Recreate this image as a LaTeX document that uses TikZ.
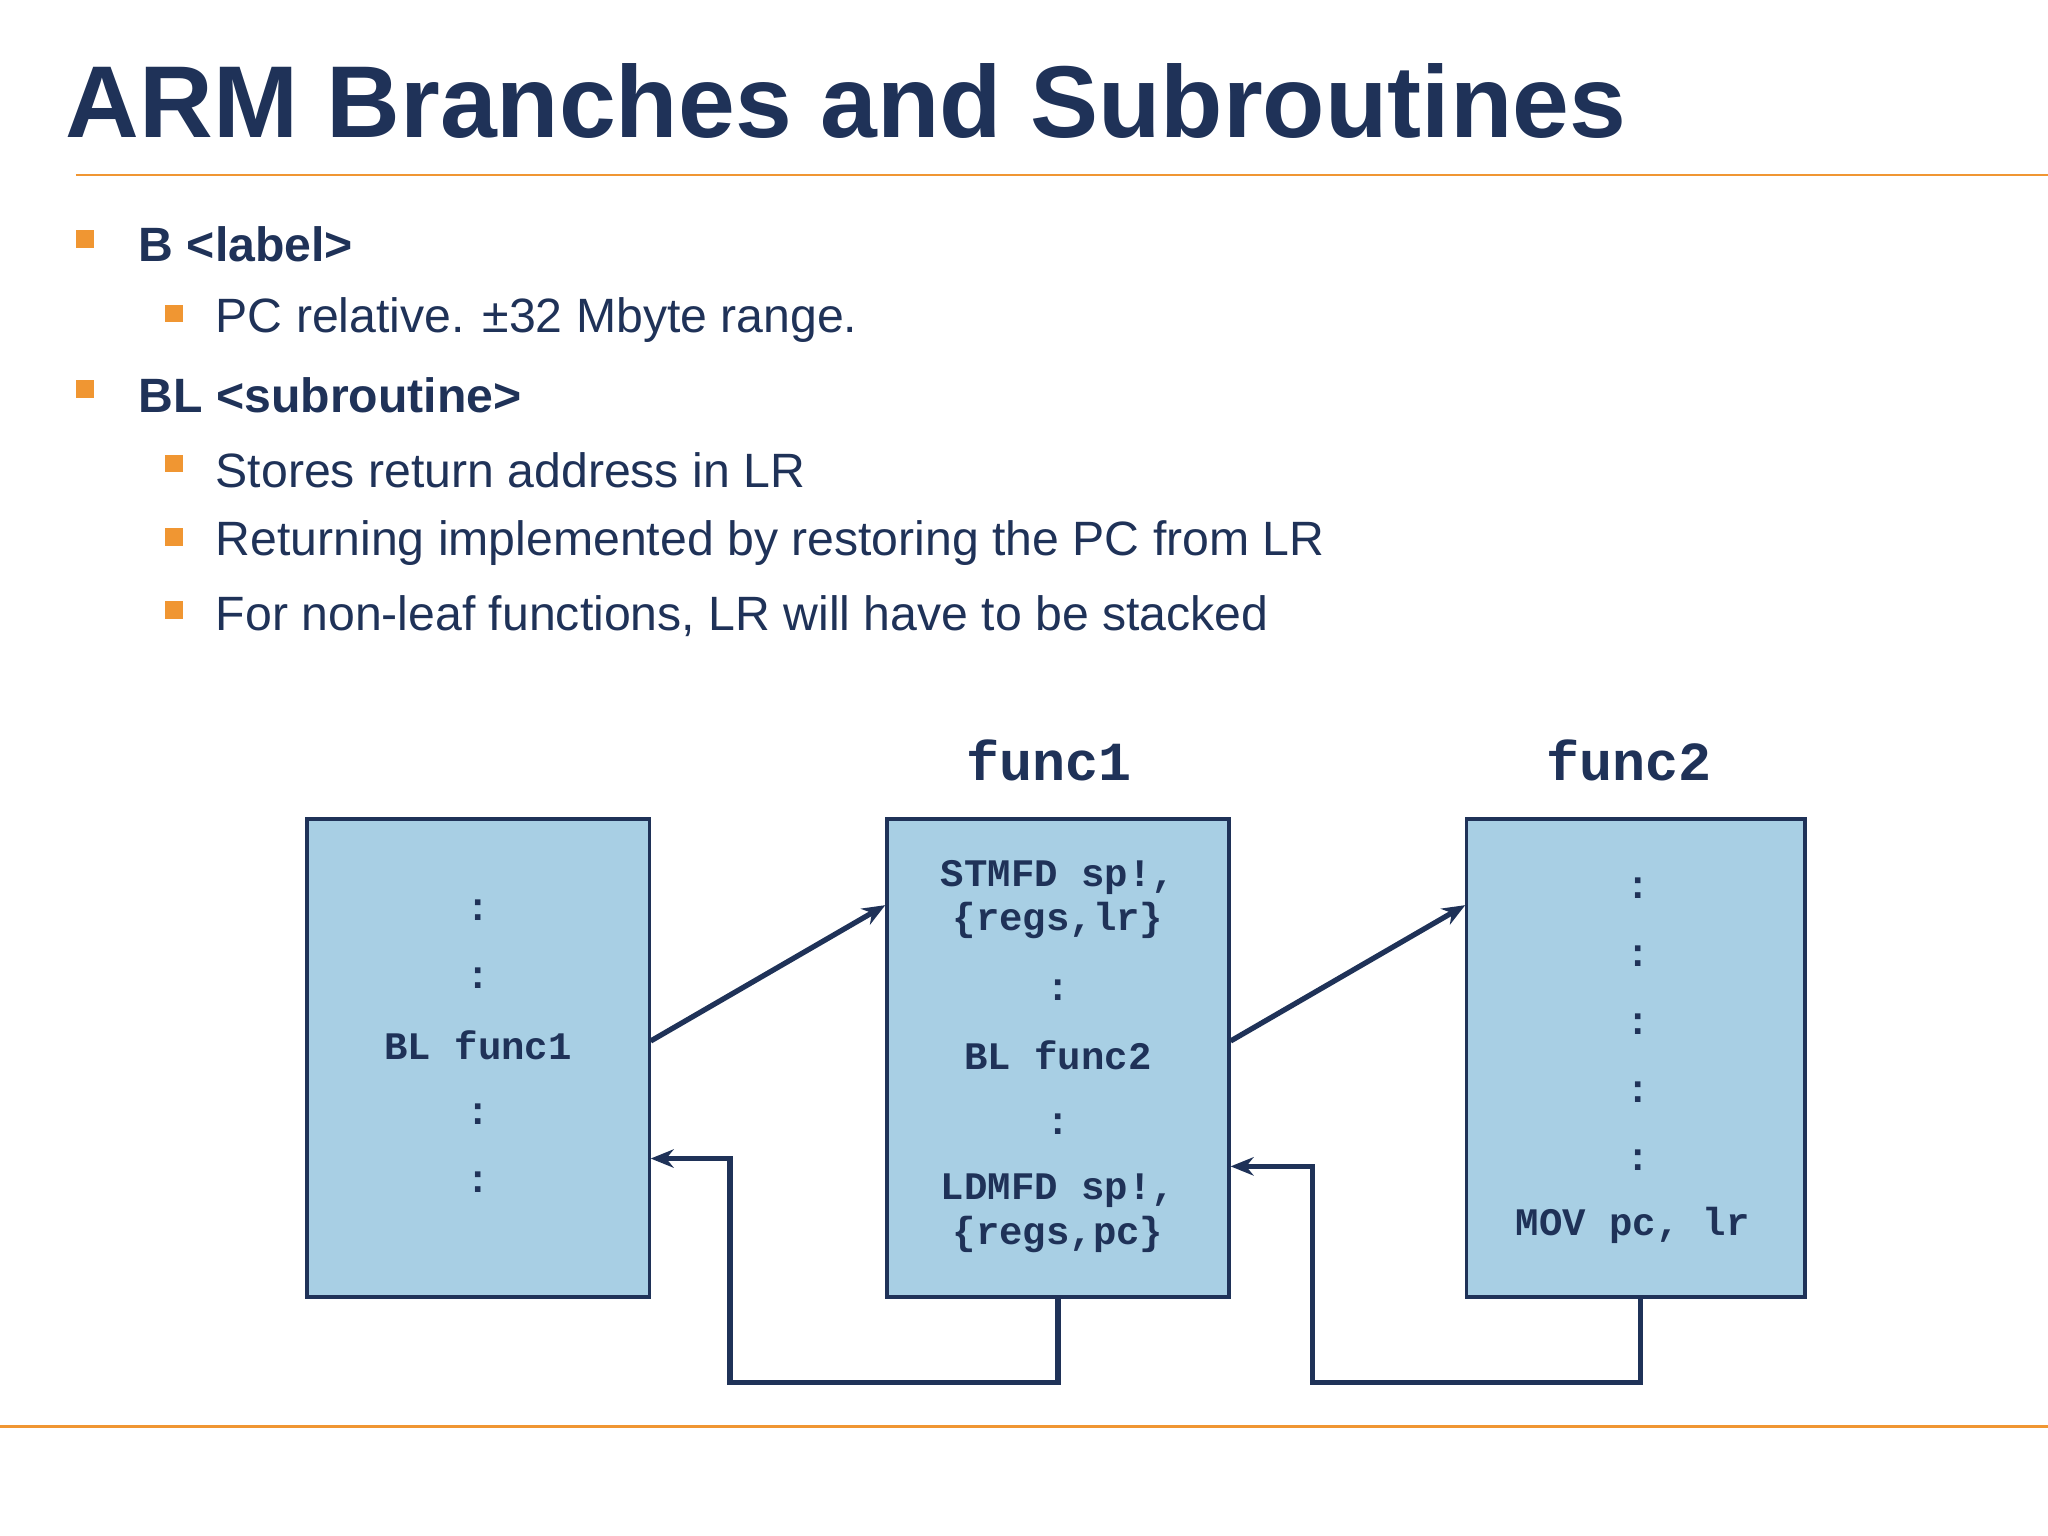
\documentclass[tikz,border=0pt]{standalone}
\usepackage{fontspec}
\setmainfont{Liberation Sans}
\newfontfamily\monofont{Liberation Mono}
\usetikzlibrary{arrows.meta, calc}
\definecolor{navy}{RGB}{31,50,88}
\definecolor{armorange}{RGB}{240,150,50}
\definecolor{boxblue}{RGB}{168,207,228}

\begin{document}
\begin{tikzpicture}[
    x=0.02cm, y=-0.02cm,
    bullet/.style  = {fill=armorange, minimum size=0.27cm, inner sep=0pt},
    item/.style    = {anchor=west, text=navy, font=\fontsize{21}{25}\selectfont},
    codebox/.style = {draw=navy, fill=boxblue, line width=1.4pt,
                      minimum width=5.24cm, minimum height=7.32cm, inner sep=0pt},
    code/.style    = {text=navy, font=\monofont\bfseries\fontsize{17}{19}\selectfont},
    funclabel/.style = {text=navy, font=\monofont\bfseries\fontsize{24}{27}\selectfont},
    link/.style    = {draw=navy, line width=2.3pt, -{Stealth[length=10pt,width=8pt]}}
  ]
  \useasboundingbox (0,0) rectangle (1568,1176);

  % title
  \node[anchor=base west, inner sep=0pt, text=navy,
        font=\bfseries\fontsize{44.5}{48}\selectfont] (title) at (50,105)
        {ARM Branches and Subroutines};
  \draw[armorange, line width=1.2pt] (58,134) -- (1568,134);
  \draw[armorange, line width=1.5pt] (0,1092) -- (1568,1092);

  % bullets
  \node[bullet] (b1) at (65,183) {};
  \node[item, font=\bfseries\fontsize{21}{25}\selectfont] (t1) at (100,187) {B <label>};
  \node[bullet] (s1) at (133,240) {};
  \node[item] (u1) at (159,245) {PC relative. ±32 Mbyte range.};
  \node[bullet] (b2) at (65,298) {};
  \node[item, font=\bfseries\fontsize{21}{25}\selectfont] (t2) at (100,303) {BL <subroutine>};
  \foreach \y/\txt [count=\i] in {360/Stores return address in LR,
      416/Returning implemented by restoring the PC from LR,
      472/{For non-leaf functions, LR will have to be stacked}} {
    \node[bullet] (s\i) at (133,\y-5) {};
    \node[item] (v\i) at (159,\y) {\txt};
  }

  % boxes
  \node[codebox] (main)  at (366,810) {};
  \node[codebox] (func1) at (810,810) {};
  \node[codebox, minimum width=5.18cm] (func2) at (1252.5,810) {};
  \node[funclabel] (lab1) at (803,582) {func1};
  \node[funclabel] (lab2) at (1247,582) {func2};

  % code text
  \foreach \y in {697,749,853,905}
    \node[code] at (366,\y) {:};
  \node[code] (blf1) at (366,800) {BL func1};
  \node[code] at (810,672) {STMFD sp!,};
  \node[code] at (810,705) {\{regs,lr\}};
  \node[code] at (810,758) {:};
  \node[code] (blf2) at (810,808) {BL func2};
  \node[code] at (810,861) {:};
  \node[code] at (810,912) {LDMFD sp!,};
  \node[code] at (810,945) {\{regs,pc\}};
  \foreach \y in {680,732,784,836,888}
    \node[code] at (1254,\y) {:};
  \node[code] (movpc) at (1250,938) {MOV pc, lr};

  % calls
  \draw[link] ($(main.east)+(0,-13)$) -- ($(func1.west)+(0,-117)$);
  \draw[link] ($(func1.east)+(0,-13)$) -- ($(func2.west)+(0,-117)$);

  % returns
  \draw[link] (func1.south) -- ++(0,64) -| (559,887) -- ($(main.east)+(0,77)$);
  \draw[link] ($(func2.south)+(3.5,0)$) -- ++(0,64) -| (1005,893) -- ($(func1.east)+(0,83)$);
\end{tikzpicture}
\end{document}
